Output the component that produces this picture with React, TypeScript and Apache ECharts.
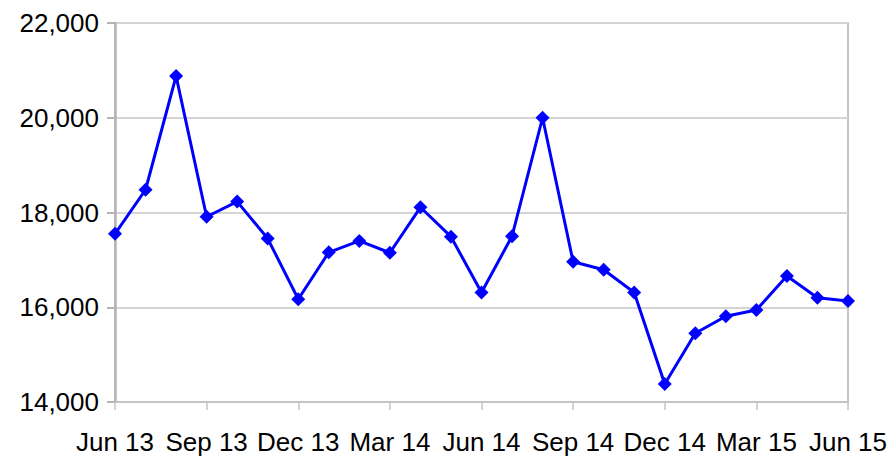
import React, { useEffect, useRef } from "react";
import * as echarts from "echarts";

const months: string[] = [
  "Jun 13", "Jul 13", "Aug 13", "Sep 13", "Oct 13", "Nov 13", "Dec 13",
  "Jan 14", "Feb 14", "Mar 14", "Apr 14", "May 14", "Jun 14", "Jul 14",
  "Aug 14", "Sep 14", "Oct 14", "Nov 14", "Dec 14", "Jan 15", "Feb 15",
  "Mar 15", "Apr 15", "May 15", "Jun 15",
];

const values: number[] = [
  17550, 18480, 20880, 17910, 18230, 17450, 16170, 17160, 17400, 17150,
  18110, 17490, 16310, 17500, 20000, 16960, 16790, 16310, 14380, 15450,
  15810, 15940, 16660, 16200, 16130,
];

const yMin = 14000;
const yMax = 22000;
const yStep = 2000;

export default function App() {
  const ref = useRef<HTMLDivElement>(null);
  useEffect(() => {
    if (!ref.current) return;
    const chart = echarts.init(ref.current, null, { renderer: "svg" });
    chart.setOption({
      animation: false,
      backgroundColor: "#ffffff",
      grid: {
        left: 115,
        right: 46,
        top: 23,
        bottom: 54,
        show: true,
        borderColor: "#c4c4c4",
        borderWidth: 2,
        backgroundColor: "transparent",
      },
      xAxis: {
        type: "category",
        data: months,
        boundaryGap: false,
        axisLine: { show: true, lineStyle: { color: "#c4c4c4", width: 2 } },
        axisTick: {
          show: true,
          interval: 2,
          length: 8,
          lineStyle: { color: "#c4c4c4", width: 1.5 },
        },
        axisLabel: {
          interval: 2,
          margin: 27,
          fontSize: 26,
          color: "#000000",
          fontFamily: "Liberation Sans, Arial, sans-serif",
        },
        splitLine: { show: false },
      },
      yAxis: {
        type: "value",
        min: yMin,
        max: yMax,
        interval: yStep,
        axisLine: { show: true, lineStyle: { color: "#b4b4b4", width: 2.5 } },
        axisTick: {
          show: true,
          length: 8,
          lineStyle: { color: "#b4b4b4", width: 2 },
        },
        axisLabel: {
          margin: 16,
          fontSize: 26,
          color: "#000000",
          fontFamily: "Liberation Sans, Arial, sans-serif",
          formatter: (v: number) => v.toLocaleString("en-US"),
        },
        splitLine: { show: true, lineStyle: { color: "#d4d4d4", width: 2 } },
      },
      series: [
        {
          type: "line",
          data: values,
          symbol: "diamond",
          symbolSize: 14,
          lineStyle: { color: "#0000ff", width: 3 },
          itemStyle: { color: "#0000ff" },
        },
      ],
    });
    return () => chart.dispose();
  }, []);
  return <div ref={ref} style={{ width: 894, height: 456, position: "absolute", left: 0, top: 0 }} />;
}
